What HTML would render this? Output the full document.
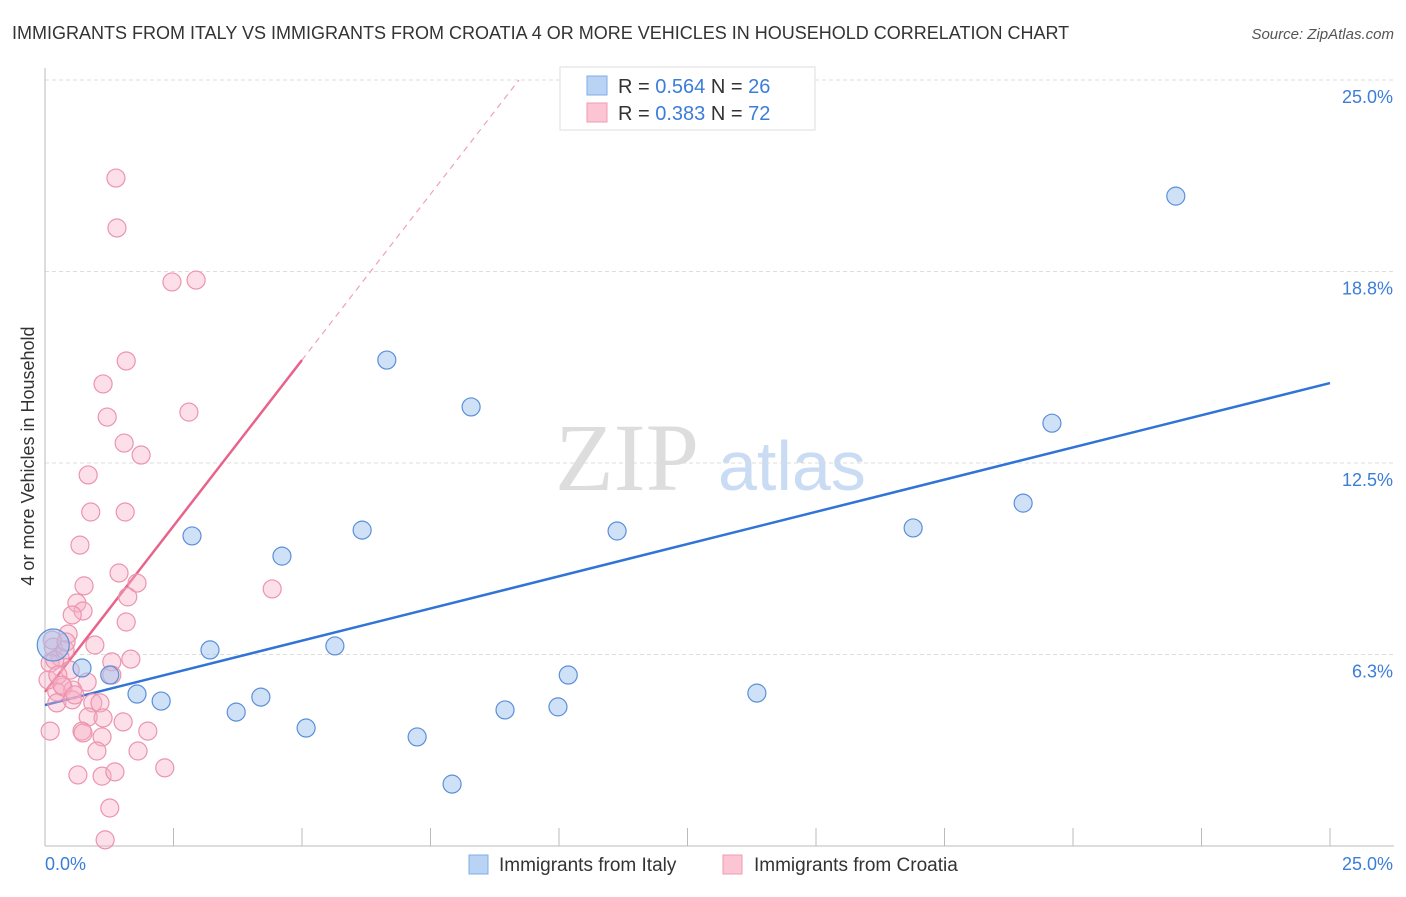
<!DOCTYPE html>
<html><head><meta charset="utf-8"><style>
body{margin:0;background:#fff;font-family:"Liberation Sans",sans-serif;}
</style></head><body>
<svg id="chart" width="1406" height="892" xmlns="http://www.w3.org/2000/svg" font-family="Liberation Sans, sans-serif">
<text x="12" y="39" font-size="18" fill="#333">IMMIGRANTS FROM ITALY VS IMMIGRANTS FROM CROATIA 4 OR MORE VEHICLES IN HOUSEHOLD CORRELATION CHART</text>
<text x="1394" y="39" font-size="15" fill="#555" text-anchor="end" font-style="italic">Source: ZipAtlas.com</text>
<text x="555" y="490" font-size="96" fill="#ddd" font-family="Liberation Serif, serif">ZIP</text>
<text x="718" y="490" font-size="70" fill="#c9dcf3">atlas</text>
<text transform="translate(34,456) rotate(-90)" font-size="18" fill="#333" text-anchor="middle">4 or more Vehicles in Household</text>
<g id="grid"></g><g id="axes"></g><g id="lines"></g><g id="pts"></g>
<g>
<rect x="560" y="67" width="255" height="63" fill="#fff" stroke="#ddd"/>
<rect x="587" y="76" width="20" height="19" fill="#b8d3f4" stroke="#7faee8"/>
<rect x="587" y="103" width="20" height="19" fill="#fbc5d4" stroke="#f09ab3"/>
<text x="618" y="93" font-size="20" fill="#333">R = <tspan fill="#3b7dd8">0.564</tspan>   N = <tspan fill="#3b7dd8">26</tspan></text>
<text x="618" y="120" font-size="20" fill="#333">R = <tspan fill="#3b7dd8">0.383</tspan>   N = <tspan fill="#3b7dd8">72</tspan></text>
</g>
<g>
<rect x="469" y="855" width="19" height="19" fill="#b8d3f4" stroke="#7faee8"/>
<text x="499" y="871" font-size="19" fill="#333">Immigrants from Italy</text>
<rect x="723" y="855" width="19" height="19" fill="#fbc5d4" stroke="#f09ab3"/>
<text x="754" y="871" font-size="19" fill="#333">Immigrants from Croatia</text>
</g>
</svg>
<script>
const yTicks=[6.25,12.5,18.75,25];
const yTickLabels=["6.3%","12.5%","18.8%","25.0%"];
const xTickLabels=["0.0%","25.0%"];
const italyX=[22.00,6.65,8.29,19.59,19.03,6.17,11.13,16.89,2.86,4.61,3.21,5.64,0.72,1.26,10.18,1.79,2.26,4.20,13.85,3.72,8.95,9.98,5.08,7.24,7.92,0.16];
const italyY=[21.21,15.86,14.33,13.80,11.19,10.31,10.28,10.38,10.12,9.46,6.40,6.53,5.81,5.58,5.58,4.96,4.73,4.86,4.99,4.37,4.44,4.54,3.85,3.56,2.02,6.56];
const croatiaX=[1.38,1.40,2.47,2.94,1.58,1.13,1.21,2.80,1.54,1.87,0.84,0.89,1.56,0.68,1.44,0.76,1.79,1.61,4.42,0.62,0.74,0.53,1.58,0.45,0.97,0.16,0.29,0.10,1.30,1.67,1.30,0.82,0.35,0.23,0.54,0.23,0.53,0.93,1.07,0.84,1.13,1.52,0.10,0.72,0.74,1.11,2.00,1.01,1.81,0.64,1.11,1.36,2.33,1.26,1.17,0.19,0.06,0.39,0.49,0.25,0.14,0.33,0.41,0.58];
const croatiaY=[21.80,20.17,18.41,18.47,15.83,15.08,14.00,14.16,13.15,12.76,12.11,10.90,10.90,9.82,8.91,8.49,8.58,8.13,8.39,7.93,7.67,7.54,7.31,6.92,6.56,6.49,6.17,5.97,6.01,6.10,5.58,5.35,5.19,5.03,5.09,4.67,4.77,4.67,4.67,4.21,4.18,4.05,3.75,3.75,3.69,3.56,3.75,3.10,3.10,2.32,2.28,2.42,2.55,1.24,0.20,6.07,5.42,6.40,5.74,5.58,6.72,5.25,6.66,4.93];
const italyTrend=[4.60,15.11];
const croatiaTrend=[5.03,2.166];
const sx=v=>45+v*51.4, sy=v=>846-v*30.64;
const NS="http://www.w3.org/2000/svg";
function mk(p,t,a){const e=document.createElementNS(NS,t);for(const k in a)e.setAttribute(k,a[k]);document.getElementById(p).appendChild(e);return e;}
yTicks.forEach((t,i)=>{
 const g=mk('grid','line',{x1:45,x2:1394,y1:sy(t),y2:sy(t),stroke:'#ddd','stroke-dasharray':'4,3'});
 
 
 const l=mk('grid','text',{x:1393,y:sy(t)+23,'font-size':18,fill:'#3b7dd8','text-anchor':'end'});
 l.textContent=yTickLabels[i];
 
 
});
let a=mk('axes','line',{x1:45,x2:45,y1:68,y2:846,stroke:'#bbb'});


a=mk('axes','line',{x1:45,x2:1394,y1:846,y2:846,stroke:'#bbb'});


for(let i=0;i<=10;i++){const t=mk('axes','line',{x1:sx(i*2.5),x2:sx(i*2.5),y1:828,y2:846,stroke:'#bbb'});
 
 }
let xl=mk('axes','text',{x:45,y:870,'font-size':18,fill:'#3b7dd8'});xl.textContent=xTickLabels[0];


xl=mk('axes','text',{x:1393,y:870,'font-size':18,fill:'#3b7dd8','text-anchor':'end'});xl.textContent=xTickLabels[1];


let ln=mk('lines','line',{x1:sx(0),y1:sy(italyTrend[0]),x2:sx(25),y2:sy(italyTrend[1]),stroke:'#2f74d6','stroke-width':2.5});


const cy=x=>croatiaTrend[0]+croatiaTrend[1]*x;
const xEnd=(25-croatiaTrend[0])/croatiaTrend[1];
ln=mk('lines','line',{x1:sx(5),y1:sy(cy(5)),x2:sx(xEnd),y2:sy(25),stroke:'#f0a0b8','stroke-width':1.2,'stroke-dasharray':'6,5'});


ln=mk('lines','line',{x1:sx(0),y1:sy(cy(0)),x2:sx(5),y2:sy(cy(5)),stroke:'#e8638c','stroke-width':2.5});


croatiaX.forEach((x,i)=>{const c=mk('pts','circle',{cx:sx(x),cy:sy(croatiaY[i]),r:9,fill:'rgba(248,175,198,0.4)',stroke:'#ec94ae','stroke-width':1.2});
 
 });
italyX.forEach((x,i)=>{const c=mk('pts','circle',{cx:sx(x),cy:sy(italyY[i]),r:i==25?16:9,fill:'rgba(160,196,240,0.5)',stroke:'#5b8fd8','stroke-width':1.2});
 
 });
</script>
</body></html>
